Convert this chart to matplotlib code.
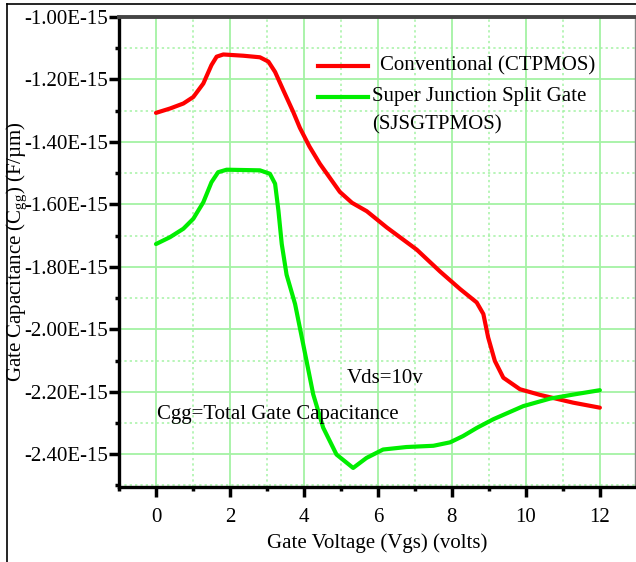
import numpy as np
import matplotlib
matplotlib.use("Agg")
import matplotlib.pyplot as plt
from matplotlib.ticker import MultipleLocator, FuncFormatter
from matplotlib.lines import Line2D

plt.rcParams["font.family"] = ["Liberation Serif", "DejaVu Serif"]
plt.rcParams["mathtext.fontset"] = "custom"
plt.rcParams["mathtext.rm"] = "Liberation Serif"
plt.rcParams["font.size"] = 15

# =========================
# Données (Cgg en unités de 1e-15 F/µm)
# =========================

vgs_conv = [0, 0.38, 0.74, 1.01, 1.28, 1.5, 1.64, 1.82, 2.36, 2.81, 3.04,
            3.22, 3.44, 3.71, 3.89, 4.15, 4.43, 4.97, 5.3, 5.7, 6.24, 7.05,
            7.68, 8.22, 8.67, 8.85, 8.98, 9.16, 9.39, 9.84, 10.38, 11.28,
            12.0]
cgg_conv = [-1.307, -1.293, -1.277, -1.256, -1.213, -1.154, -1.127, -1.12,
            -1.124, -1.129, -1.143, -1.176, -1.234, -1.304, -1.355, -1.415,
            -1.47, -1.56, -1.595, -1.622, -1.674, -1.745, -1.815, -1.871,
            -1.914, -1.951, -2.026, -2.101, -2.155, -2.192, -2.21, -2.235,
            -2.251]

vgs_sj = [0, 0.38, 0.74, 1.01, 1.28, 1.5, 1.68, 1.91, 2.81, 3.08, 3.22,
          3.31, 3.4, 3.53, 3.76, 3.98, 4.25, 4.52, 4.88, 5.33, 5.69, 6.14,
          6.77, 7.5, 7.95, 8.3, 8.67, 9.12, 9.93, 10.65, 11.28, 12.0]
cgg_sj = [-1.727, -1.705, -1.678, -1.646, -1.593, -1.529, -1.497, -1.489,
          -1.491, -1.502, -1.534, -1.62, -1.727, -1.825, -1.919, -2.048,
          -2.208, -2.315, -2.401, -2.444, -2.412, -2.385, -2.377, -2.373,
          -2.362, -2.342, -2.316, -2.288, -2.246, -2.222, -2.209, -2.195]

label_conv = "Conventional (CTPMOS)"
label_sj = ["Super Junction Split Gate", "(SJSGTPMOS)"]

RED = "#ff0000"
GREEN = "#00ee00"
GRID = "#a4f2a4"

# =========================
# Figure
# =========================

fig = plt.figure(figsize=(6.36, 5.62), dpi=100)
ax = fig.add_axes([119 / 636, 1 - 487 / 562, 516 / 636, 470 / 562])

ax.plot(vgs_conv, cgg_conv, color=RED, lw=3, solid_capstyle="round",
        solid_joinstyle="round", zorder=3)
ax.plot(vgs_sj, cgg_sj, color=GREEN, lw=3, solid_capstyle="round",
        solid_joinstyle="round", zorder=3)

ax.set_xlim(-1, 12.95)
ax.set_ylim(-2.505, -1.0)

ax.xaxis.set_major_locator(MultipleLocator(2))
ax.xaxis.set_minor_locator(MultipleLocator(1))
ax.yaxis.set_major_locator(MultipleLocator(0.2))
ax.yaxis.set_minor_locator(MultipleLocator(0.1))
ax.yaxis.set_major_formatter(FuncFormatter(lambda v, p: "-%.2fE-15" % abs(v)))
ax.xaxis.set_major_formatter(FuncFormatter(lambda v, p: "%d" % round(v)))

ax.grid(True, which="major", color=GRID, lw=1.3, ls="-", zorder=0)
ax.grid(True, which="minor", color=GRID, lw=1.1, ls=(0, (1.5, 2)), zorder=0)
ax.set_axisbelow(True)

ax.tick_params(which="major", direction="out", length=7, width=2.5,
               color="black", labelsize=15)
ax.tick_params(axis="y", which="major", pad=1)
ax.tick_params(axis="x", which="major", pad=8)
ax.tick_params(which="minor", direction="out", length=3, width=2.5,
               color="black")

for s in ["left", "bottom"]:
    ax.spines[s].set_linewidth(2.4)
    ax.spines[s].set_color("black")
ax.spines["top"].set_linewidth(2.8)
ax.spines["top"].set_color("#444444")
ax.spines["right"].set_linewidth(1.0)
ax.spines["right"].set_color("#888888")

ax.set_xlabel("Gate Voltage (Vgs) (volts)", fontsize=15)
ax.xaxis.set_label_coords(0.5, -0.098)
ax.set_ylabel(r"Gate Capacitance (C$_{\mathregular{gg}}$) (F/µm)", fontsize=15)
ax.yaxis.set_label_coords(-0.172, 0.5)

# Annotations
ax.text(6.2, -2.159, "Vds=10v", fontsize=15, ha="center", va="center")
ax.text(0.03, -2.274, "Cgg=Total Gate Capacitance", fontsize=15,
        ha="left", va="center")

# Légende faite à la main
ax.add_line(Line2D([0.386, 0.483], [0.896, 0.896], color=RED, lw=3,
                   transform=ax.transAxes))
ax.add_line(Line2D([0.386, 0.483], [0.830, 0.830], color=GREEN, lw=3,
                   transform=ax.transAxes))
ax.text(0.506, 0.896, label_conv, transform=ax.transAxes, fontsize=15,
        ha="left", va="center")
ax.text(0.490, 0.830, label_sj[0], transform=ax.transAxes, fontsize=15,
        ha="left", va="center")
ax.text(0.490, 0.770, label_sj[1], transform=ax.transAxes, fontsize=15,
        ha="left", va="center")

# Cadre extérieur
fig.add_artist(Line2D([6.5 / 636, 6.5 / 636], [0, 1 - 4 / 562], color="black",
                      lw=1.2, transform=fig.transFigure))
fig.add_artist(Line2D([6.5 / 636, 1], [1 - 4 / 562, 1 - 4 / 562], color="black",
                      lw=1.2, transform=fig.transFigure))

fig.savefig("out.png", dpi=100)
